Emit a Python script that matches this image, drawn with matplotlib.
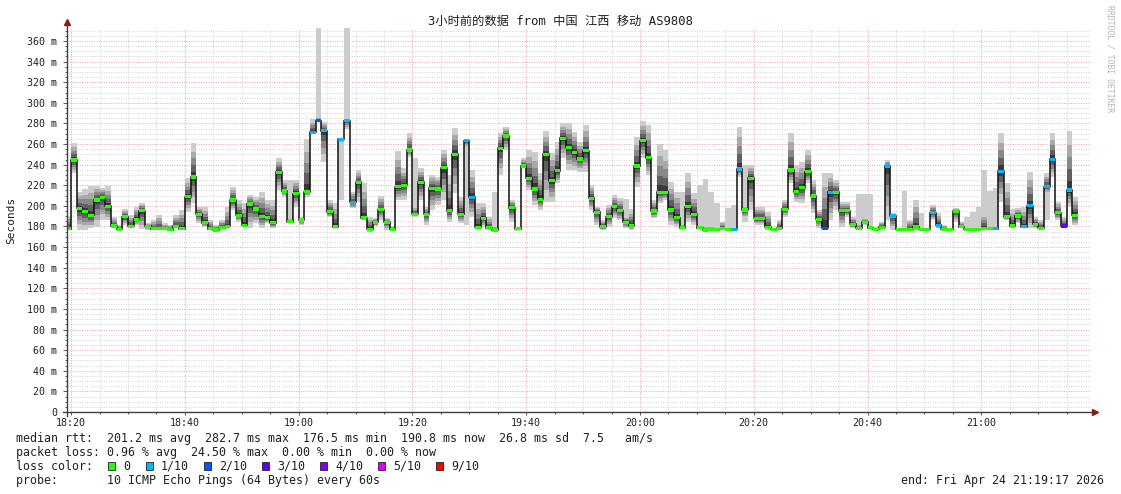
import numpy as np
import matplotlib
matplotlib.use("Agg")
import matplotlib.pyplot as plt
from matplotlib.ticker import MultipleLocator, FixedLocator
from matplotlib.patches import Rectangle

# one step per minute, step k covers [k-1, k] minutes after 18:20
med = [
    178.0, 244.5, 197.6, 194.4, 191.0, 205.7, 208.0, 199.5, 180.5, 177.2,
    189.5, 180.0, 187.0, 195.3, 180.0, 178.0, 178.0, 178.0, 177.0, 180.0,
    178.0, 208.9, 228.0, 192.0, 183.7, 178.0, 176.6, 178.8, 180.0, 205.7,
    191.0, 181.4, 201.8, 197.0, 190.0, 188.5, 183.7, 232.5, 214.4, 184.6,
    212.0, 186.3, 213.8, 271.3, 282.7, 273.0, 194.4, 179.8, 264.5, 282.7,
    203.4, 222.8, 188.5, 177.5, 184.0, 196.3, 184.0, 177.5, 218.6, 220.0,
    254.2, 192.0, 222.8, 192.0, 217.0, 216.4, 237.0, 195.3, 250.0, 192.0,
    263.0, 208.3, 179.2, 188.0, 179.0, 176.6, 255.8, 267.8, 198.2, 177.9,
    238.7, 226.7, 216.4, 206.6, 250.0, 224.4, 234.0, 265.8, 256.8, 252.0,
    245.5, 253.5, 207.3, 193.7, 179.8, 189.5, 199.2, 195.3, 184.3, 180.5,
    238.7, 263.2, 246.8, 195.0, 213.0, 213.0, 196.0, 188.5, 178.8, 199.2,
    191.8, 178.8, 176.6, 177.5, 177.2, 177.9, 177.5, 177.2, 235.8, 196.0,
    226.7, 188.0, 188.0, 179.2, 177.2, 178.2, 196.6, 234.8, 213.8, 217.6,
    233.2, 209.6, 187.0, 178.2, 213.1, 213.1, 195.3, 195.3, 182.0, 178.2,
    184.0, 178.8, 177.2, 179.2, 238.7, 190.2, 177.2, 177.2, 177.2, 179.5,
    177.2, 177.2, 193.4, 181.4, 177.2, 177.2, 195.0, 179.8, 177.2, 177.2,
    177.2, 177.9, 177.9, 177.9, 233.8, 189.5, 180.5, 190.2, 179.8, 200.2,
    182.0, 178.2, 218.6, 245.1, 193.4, 180.5, 215.4, 191.0,
]

# main smoke: low / high edge of the bulk of the pings
lo = [
    178, 232, 177, 176.6, 178.2, 179.8, 186.3, 186.3, 178.2, 176,
    181.4, 178.2, 181.4, 177.2, 176.6, 176.6, 176.6, 176.6, 176.6, 178.2,
    176.6, 194.4, 202.4, 183, 179.8, 176.6, 175, 176.6, 179.2, 196,
    184.7, 179.2, 178.2, 183, 178.2, 183, 178.2, 215.4, 208.9, 183,
    199.2, 181.4, 208.9, 270, 281, 243, 189, 178, 261, 275,
    197.6, 204, 186, 175, 180, 186.3, 177, 176, 205.7, 205.7,
    247.7, 189.5, 205.7, 181.4, 196, 200.8, 205.7, 184.7, 212.1, 183,
    257, 189.5, 176.6, 179.8, 176.6, 176, 229.9, 254.2, 184.7, 176,
    238, 215.4, 200.8, 196, 204, 204, 221.8, 246.1, 234.8, 234.8,
    233.2, 233.2, 196, 181.4, 176.6, 179.8, 187.9, 186.3, 178.2, 176.6,
    218.6, 246.1, 230, 187.9, 202.4, 205.7, 181.4, 179.8, 177, 184.7,
    181.4, 176.6, 175, 176.6, 176.6, 176.6, 176.6, 176.6, 228.3, 188,
    196, 181.4, 181.4, 176.6, 176.6, 176.6, 189.5, 221.8, 204, 202.4,
    221.8, 192.7, 178.2, 176.6, 186.3, 196, 179.8, 189.5, 178.2, 176.6,
    181.4, 176.6, 176.6, 176.6, 186.3, 176.6, 176.6, 176.6, 176.6, 176.6,
    176.6, 176.6, 186.3, 178.2, 176.6, 176.6, 184.7, 178.2, 176.6, 176.6,
    176.6, 176.6, 176.6, 176.6, 204, 186.3, 178.2, 183, 178.2, 178.2,
    178.2, 176.6, 212, 228.3, 186.3, 178.2, 199.2, 181.4,
]

hi = [
    190, 261, 213.8, 216.4, 219.6, 219.6, 217.6, 219.6, 189.5, 181.4,
    196.6, 191.1, 199.2, 203.1, 183, 186.3, 191.1, 183, 181.4, 191.1,
    196, 226.7, 260.7, 199.2, 199.2, 186.3, 181.4, 186.3, 199.2, 218.6,
    205.7, 202.4, 210.5, 208.9, 213.8, 205.7, 205.7, 246.1, 225.1, 188,
    225.1, 189.5, 264.5, 284, 286, 281.7, 206, 202.4, 266, 284,
    213.8, 234.8, 221.8, 189.5, 187.8, 209.6, 188, 180, 253.5, 236.4,
    270.4, 200, 236.4, 199.2, 230, 228.3, 254.2, 230, 275.2, 208.9,
    264.5, 234.8, 202.4, 202.4, 189.5, 180, 270.4, 276.8, 205.7, 179.8,
    246.1, 254.2, 252.6, 231.6, 272.6, 251, 262.3, 280.1, 280.1, 272,
    262.3, 278.5, 220.2, 199.2, 186.3, 200.8, 210.5, 207.3, 190, 196.6,
    266.5, 282.6, 278.5, 205.7, 260, 254.2, 223.5, 213.8, 182, 231.6,
    212.1, 181, 180, 180, 179, 184.7, 179, 179, 276.8, 200,
    239.6, 199.2, 199.2, 194.4, 179, 186.3, 205.7, 270.4, 239.6, 242.9,
    254.2, 225.1, 196, 231.6, 231.6, 225.1, 204, 204, 189.5, 182,
    188, 180, 179.5, 184.7, 244.5, 192.7, 178, 178, 186.3, 205.7,
    178, 178, 200.8, 192.7, 181.4, 178, 197.6, 184.7, 178, 178,
    178, 192.7, 180, 180, 270.4, 221.8, 196.6, 197.6, 199.2, 233.2,
    189.5, 186.3, 231.6, 270.4, 204, 189.5, 273, 208.9,
]

# single outlying pings, drawn as pale smoke
out_steps = [39, 44, 48, 49, 61, 70, 75, 98, 108, 111, 112, 113, 114, 116,
             117, 119, 139, 140, 141, 147, 150, 158, 159, 160, 161, 162, 163, 172]
out_lo = [183, 281, 205.7, 280, 189.5, 181.4, 176, 178.2, 178.2, 176.6, 175, 176.6, 176.6, 176.6,
          176.6, 184.7, 176.6, 181.4, 176.6, 176.6, 176.6, 176.6, 176.6, 176.6, 176.6, 176.6, 176.6, 186.3]
out_hi = [225.1, 380, 266, 380, 246.1, 264.5, 213.8, 206.3, 213.8, 220.2, 226, 213.8, 203.1, 198.2,
          200.8, 239.6, 211.5, 211.5, 211.5, 214.4, 192.7, 189.5, 194.4, 199.2, 234.8, 214.4, 217, 231.6]

# lost pings out of 10 per step
loss = [
    0, 0, 0, 0, 0, 0, 0, 0, 0, 0,
    0, 0, 0, 0, 0, 0, 0, 0, 0, 0,
    0, 0, 0, 0, 0, 0, 0, 0, 0, 0,
    0, 0, 0, 0, 0, 0, 0, 0, 0, 0,
    0, 0, 0, 1, 2, 1, 0, 0, 1, 1,
    1, 0, 0, 0, 0, 0, 0, 0, 0, 0,
    0, 0, 0, 0, 0, 0, 0, 0, 0, 0,
    1, 1, 0, 0, 0, 0, 0, 0, 0, 0,
    0, 0, 0, 0, 0, 0, 0, 0, 0, 0,
    0, 0, 0, 0, 0, 0, 0, 0, 0, 0,
    0, 0, 0, 0, 0, 0, 0, 0, 0, 0,
    0, 0, 0, 0, 0, 0, 0, 1, 1, 0,
    0, 0, 0, 0, 0, 0, 0, 0, 0, 0,
    0, 0, 0, 2, 1, 0, 0, 0, 0, 0,
    0, 0, 0, 0, 1, 1, 0, 0, 0, 0,
    0, 0, 1, 1, 0, 0, 0, 0, 0, 0,
    0, 0, 0, 1, 1, 0, 0, 0, 1, 1,
    0, 0, 1, 1, 0, 3, 1, 0,
]

tick_pos = [0, 20, 40, 60, 80, 100, 120, 140, 160]
tick_lab = ["18:20", "18:40", "19:00", "19:20", "19:40", "20:00", "20:20", "20:40", "21:00"]

loss_keys = [0, 1, 2, 3, 4, 5, 9]
loss_labels = ["0", "1/10", "2/10", "3/10", "4/10", "5/10", "9/10"]
loss_colors = ["#26ff00", "#00b8ff", "#0059ff", "#5e00ff", "#7e00ff", "#dd00ff", "#ff0000"]

title = "3小时前的数据 from 中国 江西 移动 AS9808"
stats = [
    "median rtt:  201.2 ms avg  282.7 ms max  176.5 ms min  190.8 ms now  26.8 ms sd  7.5   am/s",
    "packet loss: 0.96 % avg  24.50 % max  0.00 % min  0.00 % now",
]
probe = "probe:       10 ICMP Echo Pings (64 Bytes) every 60s"
end_txt = "end: Fri Apr 24 21:19:17 2026"

W, H = 1121, 494
mono = "DejaVu Sans Mono"
plt.rcParams["font.family"] = [mono, "Noto Sans CJK SC"]

fig = plt.figure(figsize=(W / 100, H / 100), dpi=100)
fig.patch.set_facecolor("white")
L, R, B, T = 67, 1091, 412, 28
ax = fig.add_axes([L / W, (H - B) / H, (R - L) / W, (B - T) / H])
ax.set_xlim(-0.717, 179.283)
ax.set_ylim(0, 372.6)

med = np.array(med, float)
lo = np.array(lo, float)
hi = np.array(hi, float)
loss = np.array(loss)
n = len(med)
edges = np.arange(-1, n)

# pale outliers
ax.bar(np.array(out_steps) - 0.5, np.array(out_hi) - np.array(out_lo), bottom=out_lo,
       width=1.0, color="#cccccc", lw=0, antialiased=False, zorder=2)

# smoke: lighter the further from the median
shades = [(1.0, "#cccccc"), (0.75, "#a9a9a9"), (0.55, "#888888"), (0.35, "#606060"), (0.15, "#383838")]
for f, c in shades:
    top = med + f * (hi - med)
    bot = med - f * (med - lo)
    ax.stairs(top, edges, baseline=bot, fill=True, color=c, lw=0, zorder=2)

ax.stairs(med, edges, baseline=None, color="#101010", lw=1.1, zorder=3)

for key, col in zip(loss_keys, loss_colors):
    sel = loss == key
    if sel.any():
        ax.bar(np.arange(n)[sel] - 0.5, 3.0, bottom=med[sel] - 1.5, width=1.0,
               color=col, lw=0, antialiased=False, zorder=4)

# grid
ax.xaxis.set_major_locator(FixedLocator(tick_pos))
ax.xaxis.set_minor_locator(MultipleLocator(5))
ax.yaxis.set_major_locator(MultipleLocator(20))
ax.yaxis.set_minor_locator(MultipleLocator(5))
ax.grid(which="minor", color="#d4d4d4", ls=(0, (1, 1.5)), lw=0.7)
ax.grid(which="major", color="#f2a0a0", ls=(0, (1, 1.5)), lw=0.7)
ax.set_axisbelow(True)

ax.set_xticklabels(tick_lab)
ax.set_yticklabels(["0" if v == 0 else f"{int(v)} m" for v in ax.get_yticks()])
ax.tick_params(which="both", labelsize=7.2, colors="#404040", labelcolor="#202020", width=0.6)
ax.tick_params(axis="y", which="major", length=3, pad=4)
ax.tick_params(axis="y", which="minor", length=1.5)
ax.tick_params(axis="x", which="major", length=2, pad=2)
ax.tick_params(axis="x", which="minor", length=1.5)

for s in ax.spines.values():
    s.set_visible(False)
ax.plot([0, 0], [-0.01, 1.018], transform=ax.transAxes, color="#404040", lw=1, clip_on=False, zorder=5)
ax.plot([-0.004, 1.004], [0, 0], transform=ax.transAxes, color="#404040", lw=1, clip_on=False, zorder=5)
ax.plot(0, 1.016, marker="^", ms=4, color="#8b1a1a", transform=ax.transAxes, clip_on=False, zorder=6)
ax.plot(1.004, 0, marker=">", ms=4, color="#8b1a1a", transform=ax.transAxes, clip_on=False, zorder=6)

ax.set_ylabel("Seconds", fontsize=8, color="#202020")
ax.yaxis.set_label_coords(-51 / (R - L), 0.5)


def px(x, y):
    return x / W, (H - y) / H


fig.text(*px(560, 21), title, ha="center", va="center", fontsize=8.8, color="#202020")
fig.text(*px(1110, 5), "RRDTOOL / TOBI OETIKER", rotation=270, ha="center", va="top",
         fontsize=5.8, color="#b4b4b4")

fs = 8.4
fig.text(*px(16, 438), stats[0], fontsize=fs, va="center", color="#202020")
fig.text(*px(16, 452), stats[1], fontsize=fs, va="center", color="#202020")
fig.text(*px(16, 466), "loss color:", fontsize=fs, va="center", color="#202020")
sq_x = [108, 146, 204, 262, 320, 378, 436]
for x0, lab, col in zip(sq_x, loss_labels, loss_colors):
    fig.patches.append(Rectangle(px(x0, 470), 7 / W, 8 / H, transform=fig.transFigure,
                                 facecolor=col, edgecolor="#202020", lw=0.6))
    fig.text(*px(x0 + 15, 466), lab, fontsize=fs, va="center", color="#202020")
fig.text(*px(16, 480), probe, fontsize=fs, va="center", color="#202020")
fig.text(*px(1104, 480), end_txt, fontsize=fs, va="center", ha="right", color="#202020")

fig.savefig("out.png", dpi=100, facecolor="white")
